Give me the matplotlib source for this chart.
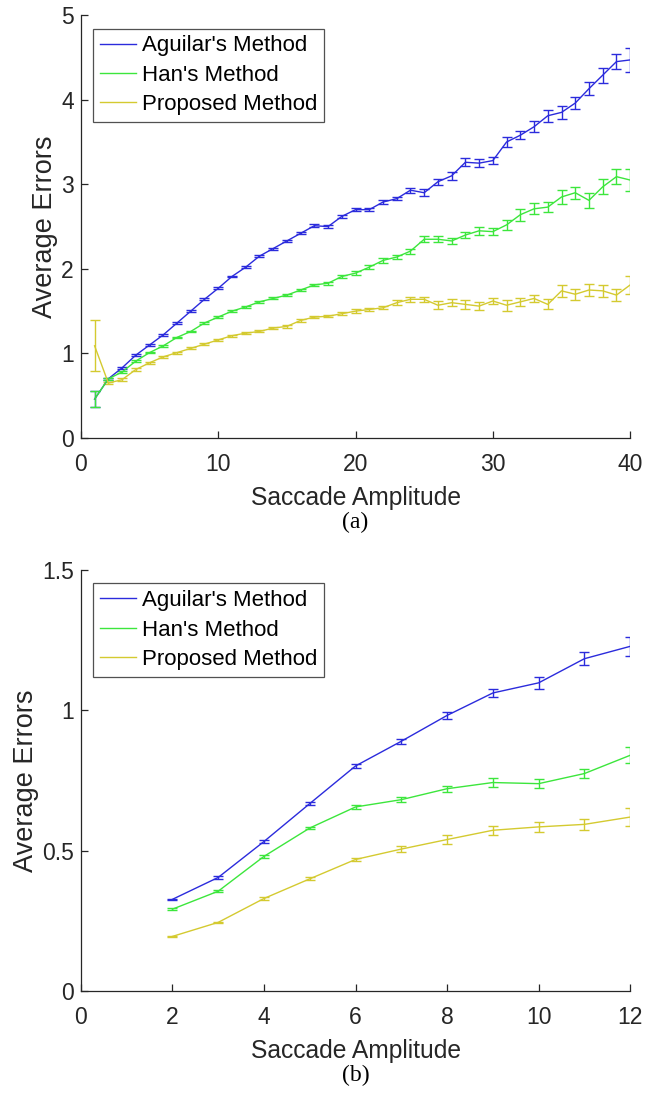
import numpy as np
import matplotlib.pyplot as plt

plt.rcParams['font.family'] = ['Liberation Sans', 'DejaVu Sans']

labels = ["Aguilar's Method", "Han's Method", "Proposed Method"]
colors = ["#2b2bdc", "#3ce63c", "#d4ca30"]

# panel (a)
amp_a = np.arange(1, 41)
aguilar_a = [0.46, 0.70, 0.83, 0.98, 1.10, 1.22, 1.36, 1.50, 1.64, 1.77,
             1.91, 2.02, 2.15, 2.24, 2.33, 2.42, 2.51, 2.50, 2.62, 2.70,
             2.70, 2.79, 2.83, 2.93, 2.90, 3.03, 3.10, 3.26, 3.25, 3.28,
             3.50, 3.58, 3.68, 3.81, 3.85, 3.96, 4.13, 4.29, 4.45, 4.47]
aguilar_a_err = [0.095, 0.01, 0.01, 0.01, 0.01, 0.01, 0.01, 0.01, 0.01, 0.01,
                 0.01, 0.012, 0.012, 0.012, 0.012, 0.012, 0.015, 0.015, 0.02, 0.02,
                 0.02, 0.02, 0.02, 0.03, 0.04, 0.035, 0.05, 0.045, 0.05, 0.045,
                 0.06, 0.05, 0.065, 0.07, 0.075, 0.07, 0.08, 0.09, 0.09, 0.14]
han_a = [0.46, 0.70, 0.78, 0.91, 1.01, 1.09, 1.19, 1.26, 1.36, 1.43,
         1.50, 1.55, 1.61, 1.65, 1.69, 1.75, 1.81, 1.83, 1.91, 1.95,
         2.02, 2.10, 2.14, 2.21, 2.35, 2.35, 2.33, 2.40, 2.45, 2.44,
         2.52, 2.64, 2.71, 2.73, 2.85, 2.90, 2.81, 2.97, 3.09, 3.05]
han_a_err = [0.095, 0.01, 0.01, 0.01, 0.01, 0.01, 0.01, 0.01, 0.01, 0.01,
             0.012, 0.012, 0.012, 0.012, 0.012, 0.015, 0.015, 0.02, 0.02, 0.02,
             0.02, 0.025, 0.025, 0.03, 0.035, 0.035, 0.04, 0.04, 0.045, 0.04,
             0.06, 0.07, 0.065, 0.06, 0.08, 0.07, 0.085, 0.09, 0.09, 0.13]
prop_a = [1.09, 0.65, 0.69, 0.81, 0.89, 0.96, 1.01, 1.06, 1.11, 1.16,
          1.21, 1.24, 1.26, 1.30, 1.32, 1.39, 1.43, 1.44, 1.47, 1.50,
          1.52, 1.54, 1.60, 1.64, 1.64, 1.57, 1.60, 1.58, 1.56, 1.62,
          1.57, 1.61, 1.65, 1.58, 1.74, 1.70, 1.75, 1.74, 1.69, 1.81]
prop_a_err = [0.30, 0.015, 0.015, 0.015, 0.012, 0.012, 0.012, 0.012, 0.012, 0.012,
              0.012, 0.012, 0.012, 0.012, 0.015, 0.015, 0.015, 0.015, 0.02, 0.02,
              0.02, 0.02, 0.03, 0.03, 0.03, 0.045, 0.04, 0.05, 0.045, 0.04,
              0.065, 0.05, 0.045, 0.06, 0.07, 0.065, 0.075, 0.07, 0.07, 0.105]

# panel (b)
amp_b = np.arange(2, 13)
aguilar_b = [0.327, 0.405, 0.533, 0.668, 0.802, 0.890, 0.982, 1.062, 1.098, 1.184, 1.228]
aguilar_b_err = [0.003, 0.004, 0.004, 0.005, 0.006, 0.008, 0.012, 0.015, 0.021, 0.024, 0.034]
han_b = [0.292, 0.356, 0.480, 0.581, 0.656, 0.682, 0.721, 0.743, 0.739, 0.775, 0.840]
han_b_err = [0.003, 0.004, 0.004, 0.005, 0.006, 0.008, 0.011, 0.015, 0.017, 0.017, 0.028]
prop_b = [0.195, 0.245, 0.330, 0.400, 0.469, 0.506, 0.540, 0.573, 0.585, 0.594, 0.620]
prop_b_err = [0.002, 0.003, 0.004, 0.005, 0.006, 0.010, 0.015, 0.016, 0.017, 0.020, 0.033]

fig = plt.figure(figsize=(6.47, 10.94), dpi=100)
ax_a = fig.add_axes([0.125, 0.5996, 0.849, 0.3866])
ax_b = fig.add_axes([0.125, 0.094, 0.849, 0.385])

tc = "#262626"
cap_px = 5  # half width of the error bar caps, in pixels


def panel(ax, x, series, errs, xlim, xticks, ylim, yticks, ytl, tag):
    ax.set_xlim(*xlim)
    ax.set_ylim(*ylim)
    # convert cap half width from pixels to data units
    ax_w = ax.get_position().width * fig.get_figwidth() * fig.dpi
    half = cap_px * (xlim[1] - xlim[0]) / ax_w
    handles = []
    for y, e, c in zip(series, errs, colors):
        y = np.asarray(y)
        e = np.asarray(e)
        eb = ax.errorbar(x, y, yerr=e, color=c, lw=1.0, capsize=0, elinewidth=1.0)
        ax.hlines(np.r_[y - e, y + e], np.r_[x, x] - half, np.r_[x, x] + half,
                  colors=c, lw=1.0)
        handles.append(eb[0])
    ax.set_xticks(xticks)
    ax.set_yticks(yticks)
    ax.set_yticklabels(ytl)
    for s in ["top", "right"]:
        ax.spines[s].set_visible(False)
    for s in ["left", "bottom"]:
        ax.spines[s].set_color(tc)
        ax.spines[s].set_linewidth(0.9)
    ax.tick_params(direction="in", length=5, width=0.9, colors=tc,
                   labelsize=16.5, labelcolor=tc)
    ax.tick_params(axis="x", pad=11)
    ax.tick_params(axis="y", pad=5)
    ax.set_xlabel("Saccade Amplitude", fontsize=17.7, color=tc, labelpad=7)
    ax.set_ylabel("Average Errors", fontsize=19.5, color=tc, labelpad=2)
    leg = ax.legend(handles, labels, loc="upper left", bbox_to_anchor=(0.022, 0.968),
                    fontsize=16, frameon=True, fancybox=False, borderaxespad=0,
                    handlelength=1.65, handletextpad=0.25, borderpad=0.3,
                    labelspacing=0.38)
    leg.get_frame().set_edgecolor(tc)
    leg.get_frame().set_linewidth(0.9)
    ax.annotate(tag, xy=(0.5, 0), xycoords="axes fraction", xytext=(0, -61),
                textcoords="offset points", ha="center", va="center",
                fontsize=17, family="Liberation Serif", color="black")


panel(ax_a, amp_a, [aguilar_a, han_a, prop_a], [aguilar_a_err, han_a_err, prop_a_err],
      (0, 40), [0, 10, 20, 30, 40], (0, 5), [0, 1, 2, 3, 4, 5],
      ["0", "1", "2", "3", "4", "5"], "(a)")
panel(ax_b, amp_b, [aguilar_b, han_b, prop_b], [aguilar_b_err, han_b_err, prop_b_err],
      (0, 12), [0, 2, 4, 6, 8, 10, 12], (0, 1.5), [0, 0.5, 1, 1.5],
      ["0", "0.5", "1", "1.5"], "(b)")

fig.savefig("out.png", dpi=100)
